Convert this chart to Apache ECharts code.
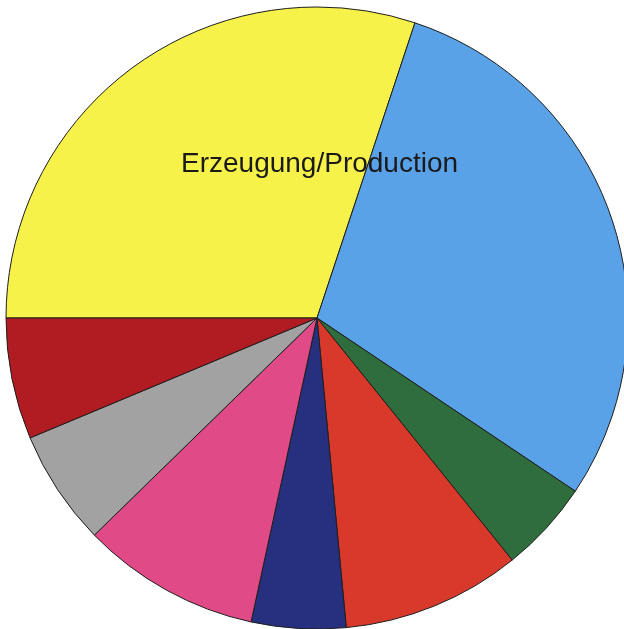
<!DOCTYPE html>
<html><head><meta charset="utf-8">
<script src="https://cdn.jsdelivr.net/npm/echarts@6/dist/echarts.min.js"></script>
<style>html,body{margin:0;padding:0;background:#fff}#c{width:624px;height:629px}</style>
</head><body><div id="c"></div>
<script>
const categories = ['Erzeugung/Production', 'Blau', 'Grün', 'Rot', 'Dunkelblau', 'Rosa', 'Grau', 'Dunkelrot'];
const values = [30.1, 29.3, 4.8, 9.3, 4.9, 9.3, 6.0, 6.3];
const colors = ['#f7f24a', '#5aa2e8', '#2f6e3c', '#d8392a', '#27307e', '#e04a86', '#a2a2a2', '#b01c22'];
const labels = ['Erzeugung/Production', '', '', '', '', '', '', ''];

const chart = echarts.init(document.getElementById('c'), null, {renderer: 'canvas'});
chart.setOption({
  animation: false,
  backgroundColor: '#ffffff',
  series: [{
    type: 'pie',
    center: [317, 318],
    radius: [0, 311],
    startAngle: 180,
    clockwise: true,
    avoidLabelOverlap: false,
    label: {show: false},
    labelLine: {show: false},
    itemStyle: {borderColor: '#1e1e1e', borderWidth: 1},
    data: categories.map((c, i) => ({name: c, value: values[i], itemStyle: {color: colors[i]}}))
  }],
  graphic: [{
    type: 'text',
    z: 100,
    zlevel: 1,
    left: 181,
    top: 150,
    style: {text: labels[0], font: '28px "Liberation Sans", Arial, sans-serif', fill: '#1a1a1a'}
  }]
});
</script></body></html>
